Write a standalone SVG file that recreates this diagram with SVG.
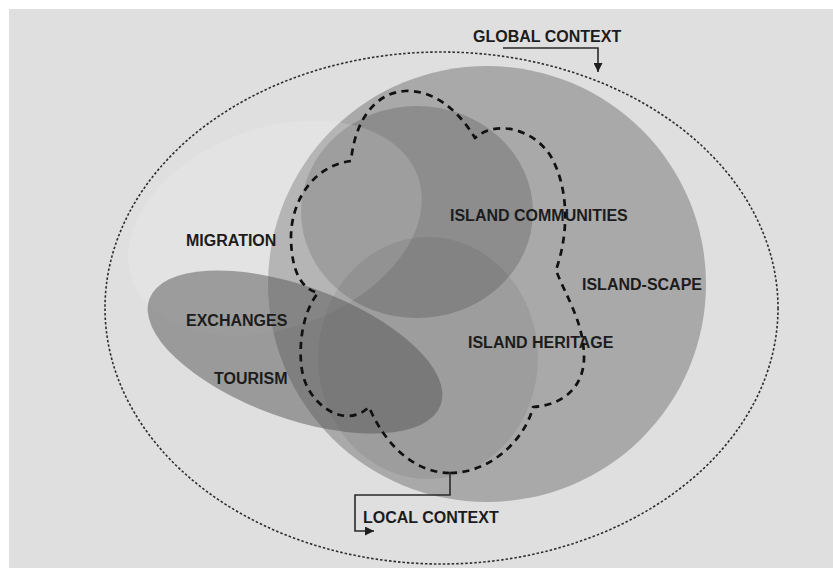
<svg xmlns="http://www.w3.org/2000/svg" width="833" height="568" viewBox="0 0 833 568">
  <defs>
    <marker id="arrow" viewBox="0 0 10 10" refX="10" refY="5" markerWidth="9" markerHeight="9" markerUnits="userSpaceOnUse" orient="auto">
      <path d="M0,0 L10,5 L0,10 z" fill="#1e1e1e"/>
    </marker>
  </defs>
  <style>
    .label { font-family: "Liberation Sans", Arial, sans-serif; font-weight: bold; font-size: 16px; fill: #1c1c1c; }
    .dotted { fill: none; stroke: #2e2e2e; stroke-width: 1.6; stroke-dasharray: 2.5 2; }
    .dashed { fill: none; stroke: #111; stroke-width: 2.7; stroke-dasharray: 7 5.5; stroke-linejoin: round; }
    .connector { fill: none; stroke: #2a2a2a; stroke-width: 1.6; }
  </style>

  <!-- canvas -->
  <rect x="0" y="0" width="833" height="568" fill="#ffffff"/>
  <rect x="9" y="9" width="824" height="559" fill="#dfdfdf"/>

  <!-- outermost frame: global context -->
  <g id="global-context">
    <ellipse class="dotted" cx="441.5" cy="308" rx="336.5" ry="256"/>
    <text class="label" x="473" y="42">GLOBAL CONTEXT</text>
  </g>

  <!-- island-scape: the large disc -->
  <g id="island-scape">
    <ellipse cx="487" cy="284" rx="219" ry="218" fill="#a9a9a9"/>
    <text class="label" x="582" y="290">ISLAND-SCAPE</text>
  </g>

  <!-- island communities -->
  <g id="island-communities">
    <ellipse cx="417" cy="212" rx="116" ry="106" fill="#000" fill-opacity="0.16"/>
    <text class="label" x="450" y="221">ISLAND COMMUNITIES</text>
  </g>

  <!-- migration: pale veil on the left -->
  <g id="migration">
    <ellipse cx="275" cy="228" rx="152" ry="100" transform="rotate(-20 275 228)" fill="#ffffff" fill-opacity="0.15"/>
    <text class="label" x="186" y="246">MIGRATION</text>
  </g>

  <!-- island heritage -->
  <g id="island-heritage">
    <ellipse cx="428" cy="358" rx="110" ry="121" fill="#000" fill-opacity="0.07"/>
    <text class="label" x="468" y="348">ISLAND HERITAGE</text>
  </g>

  <!-- exchanges and tourism: tilted ellipse -->
  <g id="exchanges-tourism">
    <ellipse cx="295" cy="352" rx="155" ry="66" transform="rotate(20 295 352)" fill="#555555" fill-opacity="0.5"/>
    <text class="label" x="186" y="326">EXCHANGES</text>
    <text class="label" x="214" y="384">TOURISM</text>
  </g>

  <!-- local context: dashed lobed outline -->
  <g id="local-context">
    <path class="dashed" d="M450,473 C490,473 525,440 533,407
      C565,405 585,385 584,355 C583,320 565,295 556,270
      C570,230 568,185 550,155 C532,128 495,120 475,138
      C455,105 430,90 405,91 C375,93 355,120 351,161
      C315,165 290,200 291,240 C292,270 300,288 318,293
      C300,315 298,355 303,375 C310,405 345,430 369,407
      C385,445 415,473 450,473 Z"/>
    <text class="label" x="363" y="523">LOCAL CONTEXT</text>
  </g>

  <!-- leader lines -->
  <g id="connectors">
    <path class="connector" d="M503,48 H598 V72" marker-end="url(#arrow)"/>
    <path class="connector" d="M450,473 V495 H355 V531 H374" marker-end="url(#arrow)"/>
  </g>
</svg>
